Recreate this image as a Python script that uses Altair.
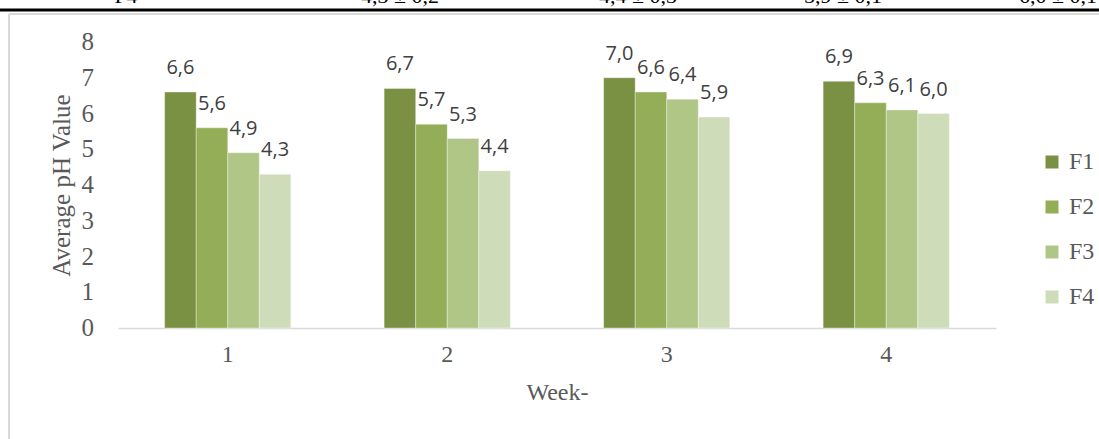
import altair as alt
import pandas as pd

weeks = ["1", "2", "3", "4"]
series = ["F1", "F2", "F3", "F4"]
values_F1 = [6.6, 6.7, 7.0, 6.9]
values_F2 = [5.6, 5.7, 6.6, 6.3]
values_F3 = [4.9, 5.3, 6.4, 6.1]
values_F4 = [4.3, 4.4, 5.9, 6.0]
colors = ["#7A9143", "#93AE56", "#AFC686", "#CFDCBA"]
y_ticks = [0, 1, 2, 3, 4, 5, 6, 7, 8]

top_texts = ["F4", "4,3 ± 0,2", "4,4 ± 0,3", "5,9 ± 0,1", "6,0 ± 0,1"]
top_text_x = [8, 282, 520, 725, 940]

rows = []
for s, vals in zip(series, [values_F1, values_F2, values_F3, values_F4]):
    for w, v in zip(weeks, vals):
        rows.append({"week": w, "series": s, "value": v})
df = pd.DataFrame(rows)

W, H = 878, 286
PL, PT = 118, 42

base = alt.Chart(df).transform_calculate(
    label="replace(format(datum.value, '.1f'), '.', ',')"
)

x_axis = alt.Axis(
    title="Week-",
    labelAngle=0,
    ticks=False,
    domainColor="#D9D9D9",
    domainWidth=1.5,
    labelFont="Liberation Serif",
    labelFontSize=24,
    labelColor="#595959",
    labelPadding=14,
    titleFont="Liberation Serif",
    titleFontSize=24,
    titleFontWeight="normal",
    titleColor="#595959",
    titlePadding=14,
)
y_axis = alt.Axis(
    title="Average pH Value",
    labels=False,
    grid=False,
    domain=False,
    ticks=False,
    titleFont="Liberation Serif",
    titleFontSize=25,
    titleFontWeight="normal",
    titleColor="#595959",
    titlePadding=44,
)
x_scale = alt.Scale(paddingInner=0.425, paddingOuter=0.2125)
y_scale = alt.Scale(domain=[0, 8], nice=False)
xo_scale = alt.Scale(paddingInner=0, paddingOuter=0)

bars = base.mark_bar(stroke="#ffffff", strokeOpacity=0.35, strokeWidth=1).encode(
    x=alt.X("week:N", sort=weeks, scale=x_scale, axis=x_axis),
    xOffset=alt.XOffset("series:N", sort=series, scale=xo_scale),
    y=alt.Y("value:Q", scale=y_scale, axis=y_axis),
    color=alt.Color(
        "series:N",
        sort=series,
        scale=alt.Scale(domain=series, range=colors),
        legend=alt.Legend(
            title=None,
            orient="none",
            legendX=922,
            legendY=108,
            symbolType="square",
            symbolSize=169,
            symbolStrokeWidth=0,
            labelFont="Liberation Serif",
            labelFontSize=24,
            labelColor="#595959",
            labelOffset=5,
            rowPadding=21,
            padding=0,
        ),
    ),
)

labels = base.mark_text(
    font="Open Sans", fontSize=20, color="#404040", baseline="alphabetic", dy=-18
).encode(
    x=alt.X("week:N", sort=weeks, scale=x_scale, axis=x_axis),
    xOffset=alt.XOffset("series:N", sort=series, scale=xo_scale),
    y=alt.Y("value:Q", scale=y_scale, axis=y_axis),
    text="label:N",
)

ytick_df = pd.DataFrame({"tick": y_ticks})
ytick_labels = alt.Chart(ytick_df).mark_text(
    font="Liberation Serif", fontSize=25, color="#595959", align="right", baseline="middle"
).encode(
    x=alt.value(-24),
    y=alt.Y("tick:Q", scale=y_scale, axis=y_axis),
    text=alt.Text("tick:Q", format="d"),
)

one = alt.Data(values=[{}])
black_line = alt.Chart(one).mark_rule(color="#000000", strokeWidth=3).encode(
    x=alt.value(-PL), x2=alt.value(1099 - PL), y=alt.value(10 - PT)
)
frame_top = alt.Chart(one).mark_rule(color="#D9D9D9", strokeWidth=2).encode(
    x=alt.value(9 - PL), x2=alt.value(1099 - PL), y=alt.value(14 - PT)
)
frame_left = alt.Chart(one).mark_rule(color="#D9D9D9", strokeWidth=2).encode(
    x=alt.value(9 - PL), y=alt.value(14 - PT), y2=alt.value(439 - PT)
)

top_df = pd.DataFrame({"t": top_texts, "px": top_text_x})
top_row = alt.Chart(top_df).mark_text(
    font="Liberation Serif", fontSize=22, color="#000000", baseline="alphabetic", align="center"
).encode(
    x=alt.X("px:Q", scale=None),
    y=alt.value(3 - PT),
    text="t:N",
)

chart = alt.layer(bars, labels, ytick_labels, black_line, frame_top, frame_left, top_row).properties(
    width=W,
    height=H,
    autosize=alt.AutoSizeParams(type="none"),
    padding={"left": PL, "top": PT, "right": 1099 - PL - W, "bottom": 439 - PT - H},
    background="#ffffff",
).configure_view(stroke=None)

chart.save("out.html", embed_options={"renderer": "svg", "actions": False})
